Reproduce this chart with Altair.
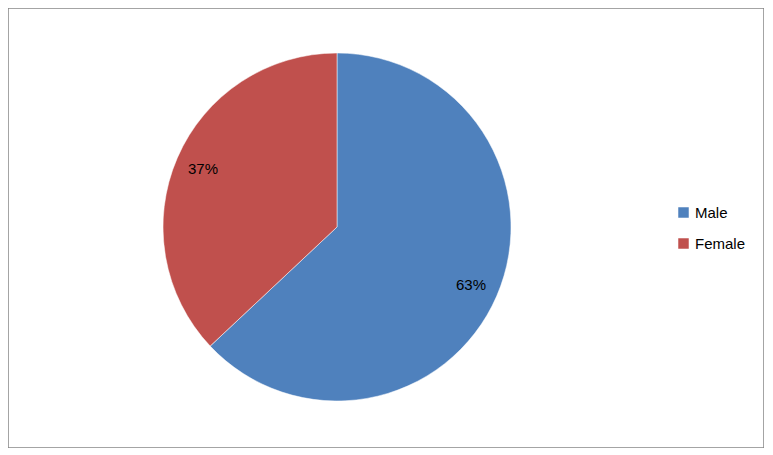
import altair as alt
import pandas as pd

categories = ["Male", "Female"]
values = [63, 37]
labels = ["63%", "37%"]
colors = ["#4F81BD", "#C0504D"]

df = pd.DataFrame({"gender": categories, "value": values, "label": labels, "order": [0, 1]})

cx, cy, r = 329, 219, 174

base = alt.Chart(df).encode(
    theta=alt.Theta("value:Q", stack=True),
    order=alt.Order("order:Q"),
)

pie = base.mark_arc(radius=r, stroke="white", strokeWidth=0.5).encode(
    x=alt.value(cx), y=alt.value(cy),
    color=alt.Color("gender:N", scale=alt.Scale(domain=categories, range=colors),
                    sort=categories,
                    legend=alt.Legend(title=None, orient="none", legendX=668, legendY=197,
                                      symbolType="square", symbolSize=110, labelOffset=4,
                                      labelFont="Liberation Sans", labelFontSize=15,
                                      labelColor="#000", rowPadding=15, symbolStrokeWidth=0)),
)

text = base.mark_text(radius=146, font="Liberation Sans", fontSize=15, color="#000").encode(
    x=alt.value(cx), y=alt.value(cy), text="label:N"
)

chart = (pie + text).properties(width=756, height=440, padding=0, autosize="none").configure_view(
    stroke="#868686", strokeWidth=1.5
)

chart.save("out.html", embed_options={"renderer": "svg", "actions": False})
